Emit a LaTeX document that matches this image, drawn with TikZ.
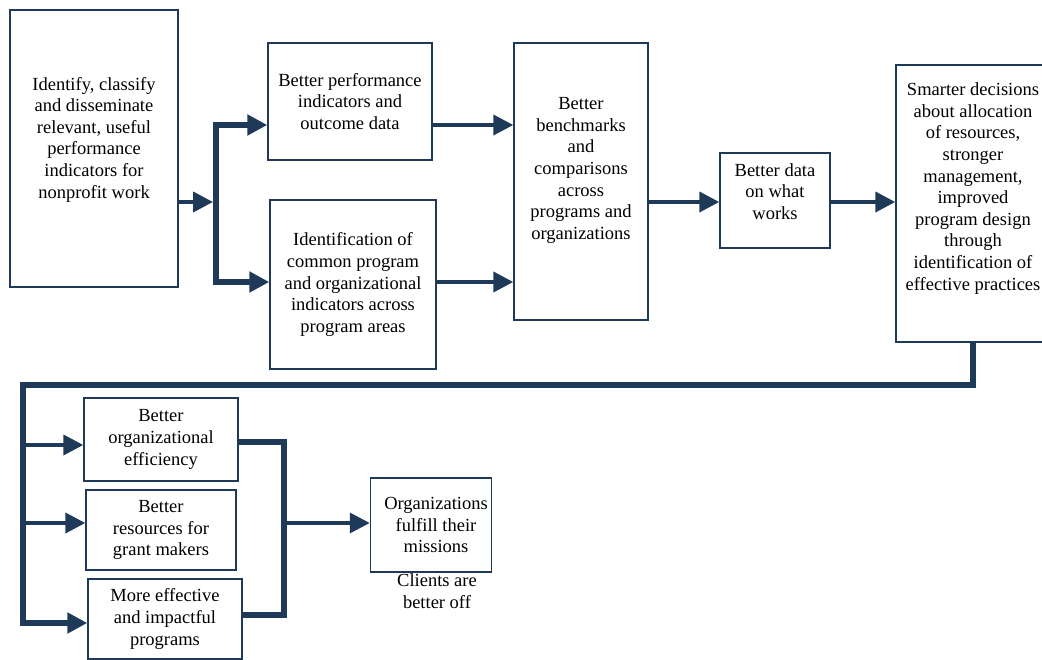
\documentclass[tikz,border=0pt]{standalone}
\usepackage{fontspec}
\setmainfont{Liberation Serif}
\usetikzlibrary{arrows.meta, positioning}
\definecolor{flowblue}{HTML}{1F3A58}

\begin{document}
\begin{tikzpicture}[x=1pt, y=-1pt,
  font=\fontsize{18.5}{21.6}\selectfont,
  box/.style={draw=flowblue, line width=1.4pt, align=center, inner sep=0pt},
  txt/.style={align=center, inner sep=0pt},
  arr/.style={-{Triangle[length=20pt, width=20pt]}, draw=flowblue,
              line width=4pt},
  trunk/.style={draw=flowblue, line width=5.5pt},
  trunkarr/.style={trunk, -{Triangle[length=20pt, width=20pt]}},
  twoway/.style={trunk, {Triangle[length=20pt, width=20pt]}-{Triangle[length=20pt, width=20pt]}}]

  \useasboundingbox (0,0) rectangle (1042,660);

  % first stage
  \node[box, minimum width=168pt, minimum height=277pt,
        label={[txt, yshift=9pt]center:{Identify, classify\\ and disseminate\\
          relevant, useful\\ performance\\ indicators for\\ nonprofit work}}]
    (ident) at (94,148.5) {};
  \node[box, minimum width=164pt, minimum height=117pt] (perf) at (350,101.5)
    {Better performance\\ indicators and\\ outcome data};
  \node[box, minimum width=166pt, minimum height=169pt] (common) at (353,284.5)
    {Identification of\\ common program\\ and organizational\\
     indicators across\\ program areas};
  \node[box, minimum width=134pt, minimum height=277pt,
        label={[txt, yshift=11pt]center:{Better\\ benchmarks\\ and\\ comparisons\\
          across\\ programs and\\ organizations}}]
    (bench) at (581,181.5) {};
  \node[box, minimum width=110pt, minimum height=95pt,
        label={[txt, yshift=9pt]center:{Better data\\ on what\\ works}}]
    (works) at (775,200.5) {};
  \node[box, minimum width=154pt, minimum height=277pt,
        label={[txt, yshift=15pt]center:{Smarter decisions\\ about allocation\\
          of resources,\\ stronger\\ management,\\ improved\\ program design\\
          through\\ identification of\\ effective practices}}]
    (smart) at (973,203.5) {};

  % second stage
  \node[box, minimum width=154pt, minimum height=83pt] (eff) at (161,439.5)
    {Better\\ organizational\\ efficiency};
  \node[box, minimum width=150pt, minimum height=80pt] (res) at (161,530)
    {Better\\ resources for\\ grant makers};
  \node[box, minimum width=154pt, minimum height=80pt] (prog) at (165,619)
    {More effective\\ and impactful\\ programs};
  \node[box, minimum width=121pt, minimum height=94pt,
        label={[txt, xshift=5pt]center:{Organizations\\ fulfill their\\ missions}}]
    (org) at (431,525) {};
  \node[txt, below=1pt of org, xshift=6pt] (clients) {Clients are\\ better off};

  % connectors, top
  \coordinate (jtop) at (216,125);
  \coordinate (jmid) at (216,202);
  \coordinate (jbot) at (216,282);
  \draw[arr] (ident.east |- jmid) -- ([xshift=-3pt]jmid);
  \draw[twoway] (perf.west |- jtop) -- (jtop) -- (jbot) -- (common.west |- jbot);
  \draw[arr] (perf.east |- jtop) -- (bench.west |- jtop);
  \draw[arr] (common.east |- jbot) -- (bench.west |- jbot);
  \draw[arr] (bench.east |- jmid) -- (works.west |- jmid);
  \draw[arr] (works.east |- jmid) -- (smart.west |- jmid);

  % connectors, bottom
  \coordinate (ltop) at (23,385);
  \coordinate (l1) at (23,445);
  \coordinate (l2) at (23,523);
  \coordinate (l3) at (23,623);
  \draw[trunkarr] (smart.south) |- (ltop) -- (l3) -- (l3 -| prog.west);
  \draw[arr] (l1) -- (l1 -| eff.west);
  \draw[arr] (l2) -- (l2 -| res.west);

  \coordinate (m1) at (284,442);
  \coordinate (m2) at (284,523);
  \coordinate (m3) at (284,615);
  \draw[trunk] (eff.east |- m1) -- (m1) -- (m3) -- (prog.east |- m3);
  \draw[arr, line width=3.5pt] (m2) -- (m2 -| org.west);
\end{tikzpicture}
\end{document}
